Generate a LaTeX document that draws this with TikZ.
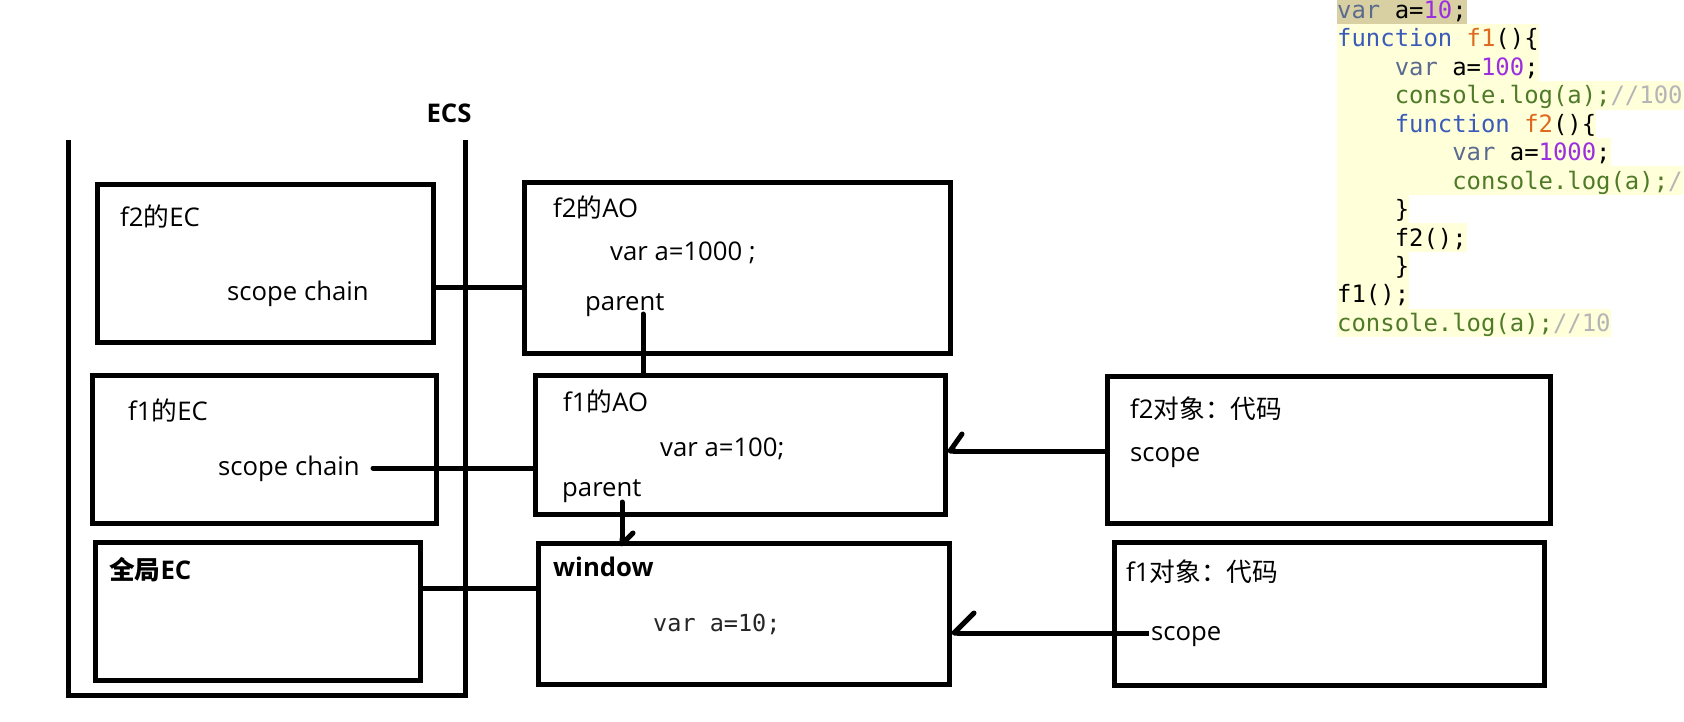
\documentclass[tikz,border=0pt]{standalone}
\usepackage{fontspec}
\setmainfont{Open Sans}
\setmonofont{DejaVu Sans Mono}
\newfontfamily\cjk{Noto Sans CJK SC}
\usetikzlibrary{arrows.meta,calc}
\definecolor{kwvar}{HTML}{5B6B8F}
\definecolor{kwfn}{HTML}{3B5BB8}
\definecolor{fname}{HTML}{DD6A1F}
\definecolor{numc}{HTML}{9B2FE0}
\definecolor{grn}{HTML}{4F7A28}
\definecolor{cmt}{HTML}{B5B5B5}
\definecolor{codebg}{HTML}{FFFFDA}
\definecolor{codesel}{HTML}{D8D0A2}
\newcommand\zh[1]{{\cjk #1}}
\newcommand\ind[1]{\hphantom{#1}}
\begin{document}
\begin{tikzpicture}[x=1pt,y=-1pt,
  box/.style={draw=black, line width=5pt, rectangle, inner sep=0pt},
  lbl/.style={anchor=base west, inner sep=0pt, font=\fontsize{25.7}{30}\selectfont},
  monolbl/.style={anchor=base west, inner sep=0pt, text=black!85, font=\fontsize{23.5}{28}\selectfont\ttfamily},
  conn/.style={draw=black, line width=5pt},
  codeln/.style={anchor=west, inner sep=0pt, fill=codebg, text height=22.7pt, text depth=5.75pt, font=\fontsize{23.9}{28.45}\selectfont\ttfamily},
  barbA/.style={-{Straight Barb[harpoon,swap,length=12pt,width=34pt,round]}},
  barbB/.style={-{Straight Barb[harpoon,swap,length=20pt,width=40pt,round]}},
  barbC/.style={-{Straight Barb[harpoon,length=11pt,width=22pt,round]}}
]
\useasboundingbox (0,0) rectangle (1684,722);
\fill[white] (0,0) rectangle (1684,722);

% ---------- code panel ----------
\node[codeln, fill=codesel] (c1) at (1337,10) {\textcolor{kwvar}{var} a=\textcolor{numc}{10};};
\node[codeln] (c2) at (1337,38.45) {\textcolor{kwfn}{function} \textcolor{fname}{f1}()\{};
\node[codeln] (c3) at (1337,66.9) {\ind{0000}\textcolor{kwvar}{var} a=\textcolor{numc}{100};};
\node[codeln] (c4) at (1337,95.35) {\ind{0000}\textcolor{grn}{console.log(a);}\textcolor{cmt}{//100}};
\node[codeln] (c5) at (1337,123.8) {\ind{0000}\textcolor{kwfn}{function} \textcolor{fname}{f2}()\{};
\node[codeln] (c6) at (1337,152.25) {\ind{00000000}\textcolor{kwvar}{var} a=\textcolor{numc}{1000};};
\node[codeln] (c7) at (1337,180.7) {\ind{00000000}\textcolor{grn}{console.log(a);}\textcolor{cmt}{/}};
\node[codeln] (c8) at (1337,209.15) {\ind{0000}\}};
\node[codeln] (c9) at (1337,237.6) {\ind{0000}f2();};
\node[codeln] (c10) at (1337,266.05) {\ind{0000}\}};
\node[codeln] (c11) at (1337,294.5) {f1();};
\node[codeln] (c12) at (1337,322.95) {\textcolor{grn}{console.log(a);}\textcolor{cmt}{//10}};

% ---------- ECS stack ----------
\draw[conn] (68,140) -- (68,695) -- (465,695) -- (465,140);
\node[font=\fontsize{25.7}{30}\selectfont\bfseries, inner sep=0pt] (ecs) at (449,113) {ECS};

% ---------- boxes ----------
\node[box, minimum width=336pt, minimum height=157pt] (f2EC) at (265,263.5) {};
\node[box, minimum width=344pt, minimum height=148pt] (f1EC) at (264,449) {};
\node[box, minimum width=325pt, minimum height=138pt] (gEC) at (257.5,611) {};
\node[box, minimum width=426pt, minimum height=170pt] (f2AO) at (737,268) {};
\node[box, minimum width=410pt, minimum height=139pt] (f1AO) at (740,444.5) {};
\node[box, minimum width=411pt, minimum height=141pt] (win) at (743.5,613.5) {};
\node[box, minimum width=443pt, minimum height=147pt] (f2obj) at (1328.5,449.5) {};
\node[box, minimum width=430pt, minimum height=143pt] (f1obj) at (1329,613.5) {};

% ---------- labels ----------
\node[lbl] (t2ec) at (120,226) {f2\zh{的}EC};
\node[lbl] (sc2) at (227,300) {scope chain};
\node[lbl] (t1ec) at (128,420) {f1\zh{的}EC};
\node[lbl] (sc1) at (218,475) {scope chain};
\node[lbl, font=\fontsize{25.7}{30}\selectfont\bfseries] (tgec) at (109,579) {\zh{全局}EC};

\node[lbl] (t2ao) at (553,218) {f2\zh{的}AO};
\node[lbl] (v2) at (610,261) {var a=1000 ;};
\node[lbl] (par2) at (585,310) {parent};
\node[lbl] (t1ao) at (563,411) {f1\zh{的}AO};
\node[lbl] (v1) at (660,456) {var a=100;};
\node[lbl] (par1) at (562,496) {parent};
\node[lbl, font=\fontsize{25.7}{30}\selectfont\bfseries] (twin) at (553,576) {window};
\node[monolbl] (v0) at (653,631) {var a=10;};

\node[lbl] (t2obj) at (1130,418) {f2\zh{对象：代码}};
\node[lbl] (s2) at (1130,461) {scope};
\node[lbl] (t1obj) at (1126,581) {f1\zh{对象：代码}};
\node[lbl] (s1) at (1151,640) {scope};

% ---------- connectors ----------
\coordinate (y2) at (0,287);
\draw[conn] (f2EC.east |- y2) -- (f2AO.west |- y2);

\coordinate (sc1end) at (373,468);
\draw[conn, line cap=round] (sc1end) -- (f1AO.west |- sc1end);

\coordinate (yg) at (0,588);
\draw[conn] (gEC.east |- yg) -- (win.west |- yg);

\coordinate (p2) at (643,314);
\draw[conn, line cap=round] (p2) -- (p2 |- f1AO.north);

\coordinate (p1) at (622,502);
\draw[conn, line cap=round, barbC] (p1) -- ([yshift=-6pt]p1 |- win.north);

\coordinate (yo2) at (0,451);
\draw[conn, barbA] (f2obj.west |- yo2) -- (f1AO.east |- yo2);

\coordinate (s1start) at (1149,633);
\draw[conn, barbB] (s1start) -- (win.east |- s1start);
\end{tikzpicture}
\end{document}
